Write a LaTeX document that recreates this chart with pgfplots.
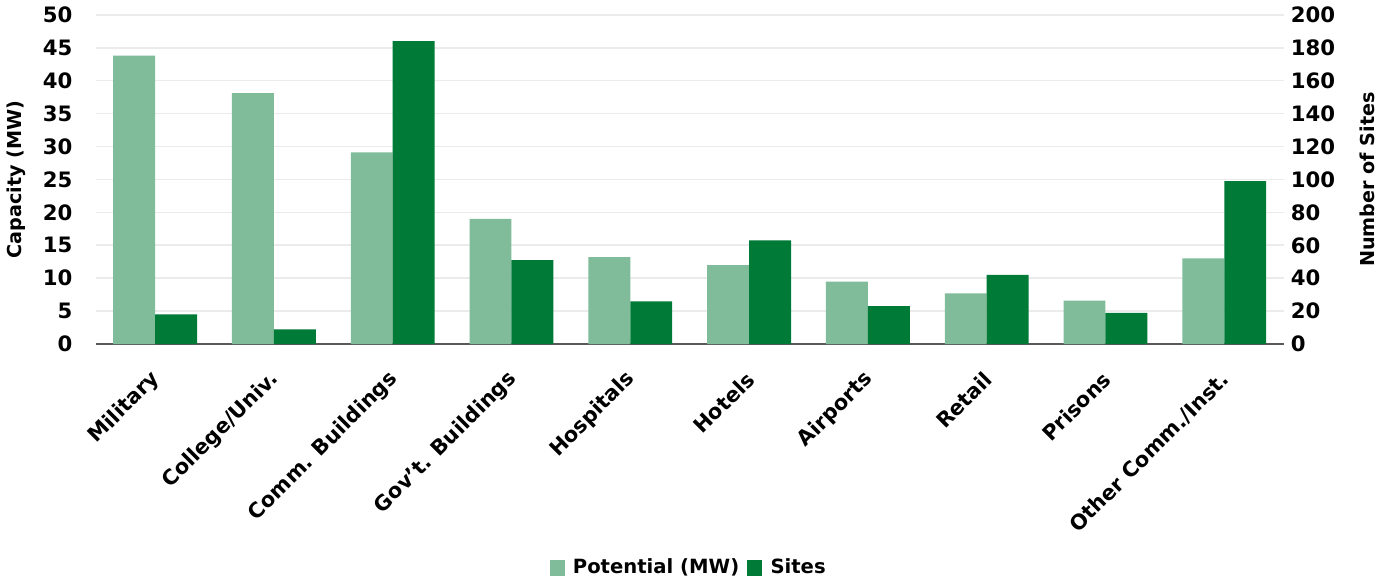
\documentclass[border=0pt]{standalone}
\usepackage{fontspec}
\setmainfont{DejaVu Sans}
\usepackage{pgfplots}
\pgfplotsset{compat=1.18}
\definecolor{potential}{HTML}{80BC99}
\definecolor{sites}{HTML}{007A37}
\definecolor{gridc}{HTML}{EBEBEB}

\newcommand{\tickfont}{\fontsize{10.5}{12}\selectfont\bfseries}
\newcommand{\catfont}{\fontsize{10.3}{12}\selectfont\bfseries}
\newcommand{\labfont}{\fontsize{9.5}{11}\selectfont\bfseries}

\pgfplotsset{
  common/.style={
    width=588pt, height=163pt, scale only axis,
    xmin=-0.5, xmax=9.5, ymin=0,
    ybar, bar width=20.75pt,
    major tick length=0pt,
    tick label style={font=\tickfont},
    label style={font=\labfont},
    /pgf/number format/assume math mode=true,
  },
}

\begin{document}
\begin{tikzpicture}
\begin{axis}[common,
  ymax=50, ytick={0,5,...,50},
  ymajorgrids, grid style={gridc, line width=0.8pt},
  axis x line*=bottom, axis y line*=left,
  y axis line style={draw=none},
  x axis line style={draw=black!65, line width=1pt, -},
  xtick={0,...,9},
  xticklabels={Military, College/Univ., Comm. Buildings, Gov't. Buildings, Hospitals, Hotels, Airports, Retail, Prisons, Other Comm./Inst.},
  x tick label style={font=\catfont, xshift=1.5pt, yshift=-15pt, rotate=45, anchor=east, inner sep=1pt},
  yticklabel style={xshift=-8pt},
  ylabel={Capacity (MW)},
  ylabel style={at={(axis description cs:-0.067,0.5)}, anchor=center},
  legend style={at={(0.5,-0.68)}, anchor=center, legend columns=2, draw=none,
    font=\fontsize{9.7}{11}\selectfont\bfseries, column sep=2pt},
  legend image code/.code={\fill[#1] (0pt,-3.8pt) rectangle (7.5pt,3.8pt);},
]
\addplot[fill=potential, draw=none, bar shift=-10.375pt] coordinates {
  (0,43.8) (1,38.1) (2,29.1) (3,19.0) (4,13.2) (5,12.0) (6,9.5) (7,7.7) (8,6.6) (9,13.0)};
\addlegendentry{Potential (MW)}
\addlegendimage{fill=sites, draw=none}
\addlegendentry{Sites}
\end{axis}
\begin{axis}[common,
  ymax=200, ytick={0,20,...,200},
  axis y line*=right, axis x line=none,
  y axis line style={draw=none},
  ylabel={Number of Sites},
  ylabel style={at={(axis description cs:1.07,0.5)}, anchor=center},
]
\addplot[fill=sites, draw=none, bar shift=10.375pt] coordinates {
  (0,18) (1,9) (2,184) (3,51) (4,26) (5,63) (6,23) (7,42) (8,19) (9,99)};
\end{axis}
\end{tikzpicture}
\end{document}
